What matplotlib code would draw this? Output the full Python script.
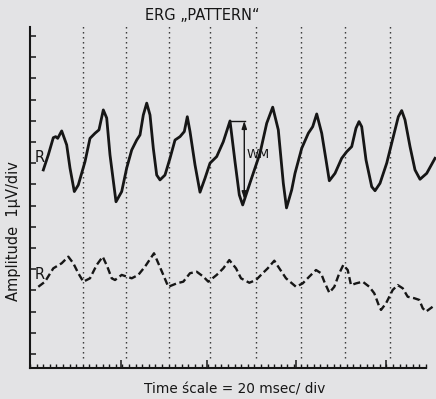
import numpy as np
import matplotlib
matplotlib.use('Agg')
import matplotlib.pyplot as plt

# time in msec, amplitude in uV (arbitrary baseline)
solid_t = [6.05, 8.32, 10.59, 11.68, 12.59, 14.41, 16.68, 18.18, 20.14, 21.95, 25.0, 27.27,
           29.55, 31.36, 33.32, 34.86, 36.36, 39.09, 41.68, 43.95, 46.23, 48.5, 50.0, 51.5,
           53.05, 54.55, 56.05, 57.59, 59.09, 61.36, 63.64, 65.91, 68.18, 70.14, 71.5, 72.73,
           75.0, 77.27, 79.55, 81.82, 84.86, 87.86, 90.91, 93.18, 95.14, 96.68, 100.0, 104.55,
           107.59, 110.32, 112.86, 115.14, 116.59, 118.95, 120.45, 123.5, 126.5, 128.5, 130.32,
           132.59, 134.55, 136.05, 138.64, 141.68, 143.95, 146.23, 148.18, 149.55, 150.77,
           152.73, 155.32, 156.82, 159.09, 162.14, 165.14, 167.41, 168.95, 170.45, 172.73,
           175.0, 177.27, 180.32, 184.09]
solid_v = [9.68, 10.39, 11.20, 11.25, 11.17, 11.52, 10.86, 9.77, 8.66, 8.97, 10.07, 11.17,
           11.41, 11.57, 12.51, 12.13, 10.39, 8.18, 8.66, 9.77, 10.62, 11.09, 11.33, 12.27,
           12.83, 12.27, 10.70, 9.44, 9.21, 9.44, 10.23, 11.09, 11.25, 11.49, 12.19, 11.49,
           9.92, 8.63, 9.29, 10.0, 10.31, 11.01, 11.99, 10.07, 8.5, 8.03, 9.07, 10.47,
           11.88, 12.64, 11.57, 9.05, 7.89, 8.74, 9.52, 10.70, 11.41, 11.72, 12.32,
           11.41, 10.15, 9.17, 9.52, 10.23, 10.54, 10.78, 11.65, 11.96, 11.72,
           10.15, 8.89, 8.70, 9.05, 10.0, 11.25, 12.19, 12.48, 12.04, 10.78,
           9.68, 9.24, 9.52, 10.23]

dashed_t = [3.77, 6.82, 10.59, 14.41, 17.41, 19.68, 21.95, 24.23, 27.27, 30.32, 33.05, 35.14,
            37.14, 38.64, 41.68, 43.95, 46.23, 49.23, 52.27, 56.36, 58.32, 60.59, 62.86, 66.68,
            69.68, 72.73, 75.77, 78.77, 81.05, 84.86, 87.86, 90.59, 93.64, 95.91, 99.68, 102.73,
            105.77, 108.05, 111.05, 113.32, 116.36, 120.91, 123.95, 126.95, 130.0, 132.27,
            133.77, 136.05, 138.32, 140.59, 142.41, 144.41, 145.91, 148.18, 151.23, 154.23,
            156.5, 158.77, 159.55, 161.82, 164.86, 167.14, 169.41, 171.68, 174.68, 176.95,
            178.5, 180.0, 183.05]
dashed_v = [4.17, 4.41, 5.04, 5.28, 5.59, 5.28, 4.81, 4.41, 4.57, 5.20, 5.59, 5.12,
            4.57, 4.49, 4.73, 4.65, 4.57, 4.73, 5.12, 5.75, 5.28, 4.73, 4.17, 4.33,
            4.41, 4.81, 4.88, 4.65, 4.41, 4.73, 5.04, 5.43, 5.04, 4.57, 4.36, 4.49,
            4.81, 5.04, 5.40, 5.04, 4.57, 4.17, 4.33, 4.65, 4.96, 4.81,
            4.41, 3.89, 4.17, 4.81, 5.20, 4.96, 4.25, 4.33, 4.41, 4.17,
            3.86, 3.23, 3.08, 3.39, 4.02, 4.25, 4.10, 3.70, 3.63, 3.55,
            3.16, 3.0, 3.23]

marker_t = [24, 43.5, 63, 82, 102.5, 123, 143, 163.5]   # dotted time markers
major_t = [41.4, 80.5, 121, 161.8]                       # long ticks on time axis
y_ticks = list(range(1, 17))

ink = '#161616'
paper = '#e3e3e5'

fig = plt.figure(figsize=(4.36, 3.99), dpi=100, facecolor=paper)
ax = fig.add_axes([0.0688, 0.0777, 0.931, 0.8546], facecolor=paper)
ax.set_xlim(0, 184.5)
ax.set_ylim(0.34, 16.42)

for t in marker_t:
    ax.plot([t, t], [0.8, 16.5], color='#2a2a2a', lw=1.0, ls=(0, (1, 2.6)), clip_on=False)

ax.plot(solid_t, solid_v, color=ink, lw=2.0, solid_joinstyle='round', clip_on=False)
ax.plot(dashed_t, dashed_v, color=ink, lw=1.7, ls=(0, (3, 1.5)), clip_on=False)

# WM measurement mark
ax.plot([91.4, 97.6], [11.99, 11.99], color=ink, lw=1.0)
ax.annotate('', xy=(97.4, 11.99), xytext=(97.4, 8.3),
            arrowprops=dict(arrowstyle='<|-|>,head_length=0.45,head_width=0.15',
                            color=ink, lw=1.0, shrinkA=0, shrinkB=0))
ax.text(98.5, 10.39, 'WM', fontsize=9, color=ink, va='center', ha='left')

ax.text(4.5, 10.25, 'R', fontsize=10.5, color=ink, ha='center', va='center')
ax.text(4.5, 4.77, 'R', fontsize=10.5, color=ink, ha='center', va='center')

for side in ['top', 'right']:
    ax.spines[side].set_visible(False)
for side in ['left', 'bottom']:
    ax.spines[side].set_linewidth(1.5)
    ax.spines[side].set_color(ink)
ax.spines['bottom'].set_bounds(0, 180)

ax.set_yticks(y_ticks)
ax.set_yticklabels([])
ax.tick_params(axis='y', direction='in', length=4, width=1.1, color=ink)
ax.set_xticks(major_t)
ax.set_xticklabels([])
ax.set_xticks(np.arange(0, 181, 3), minor=True)
ax.tick_params(axis='x', which='major', direction='in', length=6, width=1.1, color=ink)
ax.tick_params(axis='x', which='minor', direction='in', length=3, width=1.0, color=ink)

fig.text(0.463, 0.96, 'ERG \u201ePATTERN\u201c', fontsize=10.5, color=ink,
         ha='center', va='center')
fig.text(0.539, 0.025, 'Time \u015bcale = 20 msec/ div', fontsize=9.8, color=ink,
         ha='center', va='center')
fig.text(0.032, 0.42, 'Amplitude  1\u00b5V/div', fontsize=10.5, color=ink,
         ha='center', va='center', rotation=90)

fig.savefig('out.png', dpi=100, facecolor=paper)
